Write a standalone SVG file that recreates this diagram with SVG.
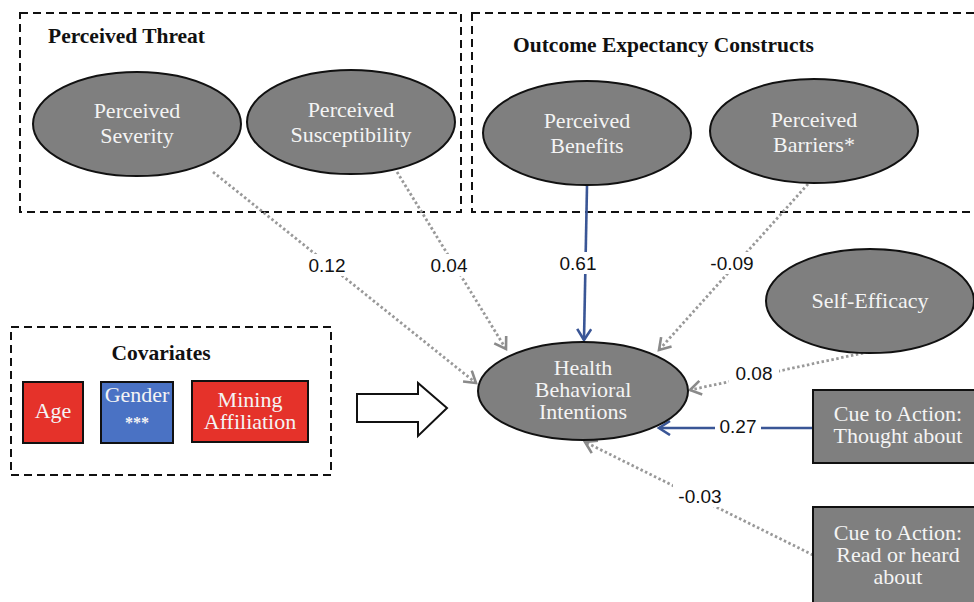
<svg xmlns="http://www.w3.org/2000/svg" width="974" height="602" viewBox="0 0 974 602">
<style>
.grp{fill:none;stroke:#111;stroke-width:2;stroke-dasharray:8 5}
.ell{fill:#7f7f7f;stroke:#111;stroke-width:2}
.box{fill:#7f7f7f;stroke:#111;stroke-width:2}
.nt{font-family:"Liberation Serif","DejaVu Serif",serif;font-size:22px;fill:#f4f4f4;text-anchor:middle}
.title{font-family:"Liberation Serif","DejaVu Serif",serif;font-size:21.5px;font-weight:bold;fill:#111}
.lbl{font-family:"Liberation Sans",Arial,sans-serif;font-size:19px;fill:#111;text-anchor:middle}
.dot{fill:none;stroke:#999;stroke-width:2.8;stroke-dasharray:2.5 2.5}
.sol{fill:none;stroke:#3a5696;stroke-width:2.6}
.lb{fill:#fff}
</style>
<defs>
<marker id="ag" markerUnits="userSpaceOnUse" markerWidth="20" markerHeight="20" refX="13" refY="8" orient="auto">
<path d="M2,1 L13,8 L2,15" fill="none" stroke="#8a8a8a" stroke-width="2.6"/>
</marker>
<marker id="ab" markerUnits="userSpaceOnUse" markerWidth="20" markerHeight="20" refX="13" refY="8" orient="auto">
<path d="M2,1 L13,8 L2,15" fill="none" stroke="#3a5696" stroke-width="2.6"/>
</marker>
</defs>
<rect width="974" height="602" fill="#fff"/>

<g id="group-perceived-threat">
<rect class="grp" x="20" y="13" width="441" height="199"/>
<text class="title" x="48" y="43">Perceived Threat</text>
</g>
<g id="group-outcome-expectancy">
<rect class="grp" x="472" y="13" width="520" height="199"/>
<text class="title" x="513" y="52">Outcome Expectancy Constructs</text>
</g>
<g id="group-covariates">
<rect class="grp" x="11" y="327" width="320" height="148"/>
<text class="title" x="161" y="360" text-anchor="middle">Covariates</text>
</g>

<g id="connectors">
<line class="dot" x1="213" y1="172" x2="476" y2="383" marker-end="url(#ag)"/>
<line class="dot" x1="397" y1="172" x2="506" y2="349" marker-end="url(#ag)"/>
<line class="sol" x1="587" y1="186" x2="584" y2="340" marker-end="url(#ab)"/>
<line class="dot" x1="808" y1="184" x2="659" y2="350" marker-end="url(#ag)"/>
<line class="dot" x1="868" y1="352" x2="690" y2="390" marker-end="url(#ag)"/>
<line class="sol" x1="813" y1="428" x2="659" y2="428" marker-end="url(#ab)"/>
<line class="dot" x1="813" y1="555" x2="585" y2="442" marker-end="url(#ag)"/>
<g id="labels">
<rect class="lb" x="306" y="254" width="42" height="22"/>
<text class="lbl" x="327" y="272">0.12</text>
<rect class="lb" x="429" y="254" width="40" height="22"/>
<text class="lbl" x="449" y="272">0.04</text>
<rect class="lb" x="557" y="252" width="42" height="22"/>
<text class="lbl" x="578" y="270">0.61</text>
<rect class="lb" x="707" y="252" width="50" height="22"/>
<text class="lbl" x="732" y="270">-0.09</text>
<rect class="lb" x="729" y="361" width="50" height="23"/>
<text class="lbl" x="754" y="380">0.08</text>
<rect class="lb" x="715" y="415" width="46" height="23"/>
<text class="lbl" x="738" y="433">0.27</text>
<rect class="lb" x="673" y="484" width="54" height="23"/>
<text class="lbl" x="700" y="503">-0.03</text>
</g>
</g>

<g id="node-severity">
<ellipse class="ell" cx="137" cy="124" rx="104" ry="52"/>
<text class="nt" x="137" y="118">Perceived</text>
<text class="nt" x="137" y="143">Severity</text>
</g>
<g id="node-susceptibility">
<ellipse class="ell" cx="351" cy="122" rx="104" ry="52"/>
<text class="nt" x="351" y="117">Perceived</text>
<text class="nt" x="351" y="142">Susceptibility</text>
</g>
<g id="node-benefits">
<ellipse class="ell" cx="587" cy="133" rx="104" ry="52"/>
<text class="nt" x="587" y="128">Perceived</text>
<text class="nt" x="587" y="153">Benefits</text>
</g>
<g id="node-barriers">
<ellipse class="ell" cx="814" cy="131" rx="104" ry="52"/>
<text class="nt" x="814" y="127">Perceived</text>
<text class="nt" x="814" y="152">Barriers*</text>
</g>
<g id="node-self-efficacy">
<ellipse class="ell" cx="870" cy="301" rx="104" ry="52"/>
<text class="nt" x="870" y="308">Self-Efficacy</text>
</g>
<g id="node-intentions">
<ellipse class="ell" cx="583" cy="391" rx="105" ry="49"/>
<text class="nt" x="583" y="375">Health</text>
<text class="nt" x="583" y="397">Behavioral</text>
<text class="nt" x="583" y="419">Intentions</text>
</g>
<g id="node-cue-thought">
<rect class="box" x="813" y="390" width="175" height="73"/>
<text class="nt" x="898" y="421">Cue to Action:</text>
<text class="nt" x="898" y="443">Thought about</text>
</g>
<g id="node-cue-read">
<rect class="box" x="813" y="507" width="175" height="110"/>
<text class="nt" x="898" y="540">Cue to Action:</text>
<text class="nt" x="898" y="562">Read or heard</text>
<text class="nt" x="898" y="584">about</text>
</g>

<g id="node-age">
<rect x="23" y="382" width="60" height="61" fill="#e5322a" stroke="#111" stroke-width="2"/>
<text class="nt" x="53" y="418">Age</text>
</g>
<g id="node-gender">
<rect x="101" y="382" width="72" height="61" fill="#4a72c4" stroke="#111" stroke-width="2"/>
<text class="nt" x="137" y="402">Gender</text>
<text class="nt" x="137" y="428" style="font-size:16px;font-weight:bold">***</text>
</g>
<g id="node-mining">
<rect x="192" y="381" width="116" height="61" fill="#e5322a" stroke="#111" stroke-width="2"/>
<text class="nt" x="250" y="407">Mining</text>
<text class="nt" x="250" y="429">Affiliation</text>
</g>
<g id="node-block-arrow">
<path d="M357,394 L418,394 L418,383 L447,408 L418,436 L418,422 L357,422 Z" fill="#fff" stroke="#111" stroke-width="2"/>
</g>
</svg>
